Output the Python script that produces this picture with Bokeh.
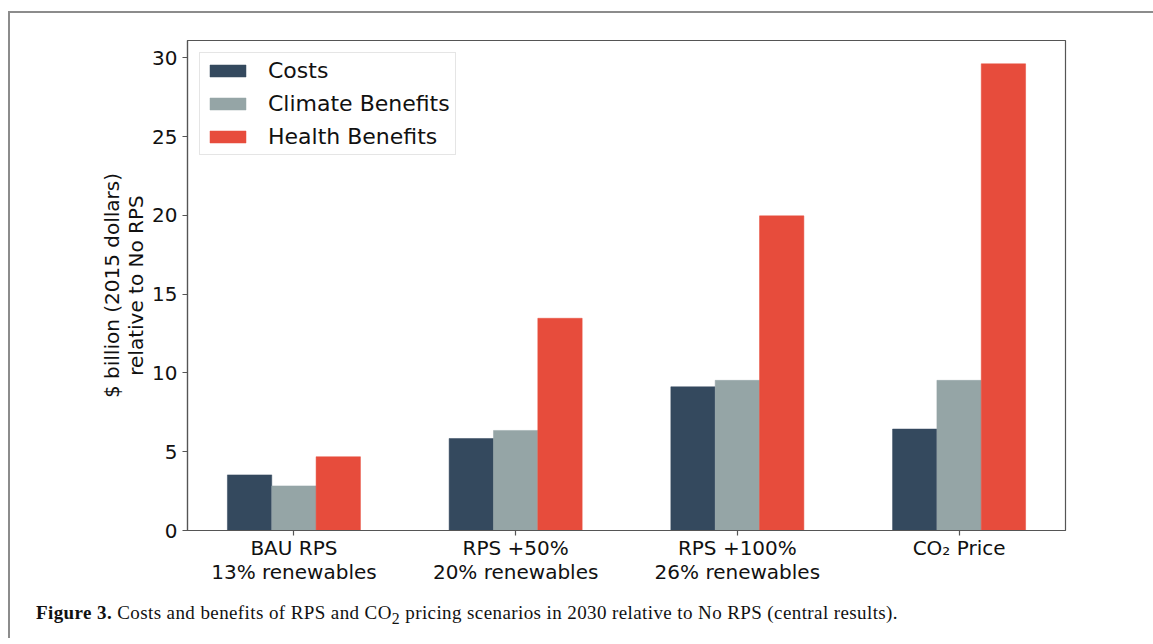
from bokeh.plotting import figure
from bokeh.models import ColumnDataSource, FixedTicker, Range1d, Legend, LegendItem, Div
from bokeh.layouts import column
from bokeh.embed import file_html
from bokeh.resources import INLINE

# ---- data ----
scenarios = ["BAU RPS\n13% renewables", "RPS +50%\n20% renewables", "RPS +100%\n26% renewables", "CO\u2082 Price"]
costs = [3.53, 5.84, 9.12, 6.44]
climate_benefits = [2.83, 6.35, 9.53, 9.53]
health_benefits = [4.68, 13.47, 19.97, 29.62]
series_names = ["Costs", "Climate Benefits", "Health Benefits"]
series_colors = ["#34495e", "#95a5a6", "#e74c3c"]
y_ticks = [0, 5, 10, 15, 20, 25, 30]
caption_bold = "Figure 3."
caption_text = "Costs and benefits of RPS and CO<sub>2</sub> pricing scenarios in 2030 relative to No RPS (central results)."

idx = list(range(len(scenarios)))
bar_w = 0.2
offsets = [-bar_w, 0.0, bar_w]

p = figure(width=1143, height=585, output_backend="svg", toolbar_location=None,
           x_range=Range1d(-0.48, len(scenarios) - 0.52), y_range=Range1d(0, 31.1),
           min_border_left=177, min_border_right=88, min_border_top=27, min_border_bottom=68)

p.grid.visible = False
p.outline_line_color = "#555555"
p.outline_line_width = 1.2
p.background_fill_color = "white"
p.border_fill_color = "white"

renderers = []
for vals, name, col, off in zip([costs, climate_benefits, health_benefits], series_names, series_colors, offsets):
    src = ColumnDataSource(dict(x=[i + off for i in idx], top=vals))
    r = p.vbar(x="x", top="top", width=bar_w, bottom=0, source=src,
               fill_color=col, line_color=col, line_width=0.5)
    renderers.append((name, r))

legend = Legend(items=[LegendItem(label=n, renderers=[r]) for n, r in renderers],
                location="top_left", margin=12, padding=5,
                glyph_width=45, glyph_height=15, label_height=20, spacing=8,
                label_standoff=18, label_text_font="DejaVu Sans",
                label_text_font_size="22px", label_text_color="#111111",
                border_line_color="#cccccc", border_line_width=1,
                background_fill_alpha=1.0)
p.add_layout(legend)

# axes
p.xaxis.ticker = FixedTicker(ticks=idx)
p.xaxis.major_label_overrides = {i: s for i, s in zip(idx, scenarios)}
p.xaxis.minor_tick_line_color = None
p.yaxis.ticker = FixedTicker(ticks=y_ticks)
p.yaxis.minor_tick_line_color = None
for ax in [p.xaxis[0], p.yaxis[0]]:
    ax.axis_line_color = "#555555"
    ax.axis_line_width = 1.2
    ax.major_tick_line_color = "#555555"
    ax.major_tick_line_width = 1.2
    ax.major_tick_in = 0
    ax.major_tick_out = 5
    ax.major_label_text_font = "DejaVu Sans"
    ax.major_label_text_font_size = "20px"
    ax.major_label_text_color = "#111111"
    ax.major_label_text_line_height = 1.0
p.xaxis.major_label_standoff = 0
p.yaxis.major_label_standoff = 5
p.yaxis.axis_label = "$ billion (2015 dollars)\nrelative to No RPS"
p.yaxis.axis_label_text_font = "DejaVu Sans"
p.yaxis.axis_label_text_font_size = "20px"
p.yaxis.axis_label_text_font_style = "normal"
p.yaxis.axis_label_text_color = "#111111"
p.yaxis.axis_label_text_line_height = 1.0
p.yaxis.axis_label_standoff = 1

cap = Div(text=f"<b>{caption_bold}</b> {caption_text}", width=1100, height=30,
          styles={"font-family": "'Liberation Serif', serif", "font-size": "19px",
                  "letter-spacing": "0.4px",
                  "color": "#111111", "padding-left": "21px", "line-height": "20px",
                  "white-space": "nowrap"})

layout = column(p, cap, spacing=0,
                styles={"border-top": "2px solid #8c8c8c", "border-left": "2px solid #8c8c8c",
                        "margin-top": "11px", "margin-left": "8px"})

open("out.html", "w").write(file_html(layout, INLINE))
